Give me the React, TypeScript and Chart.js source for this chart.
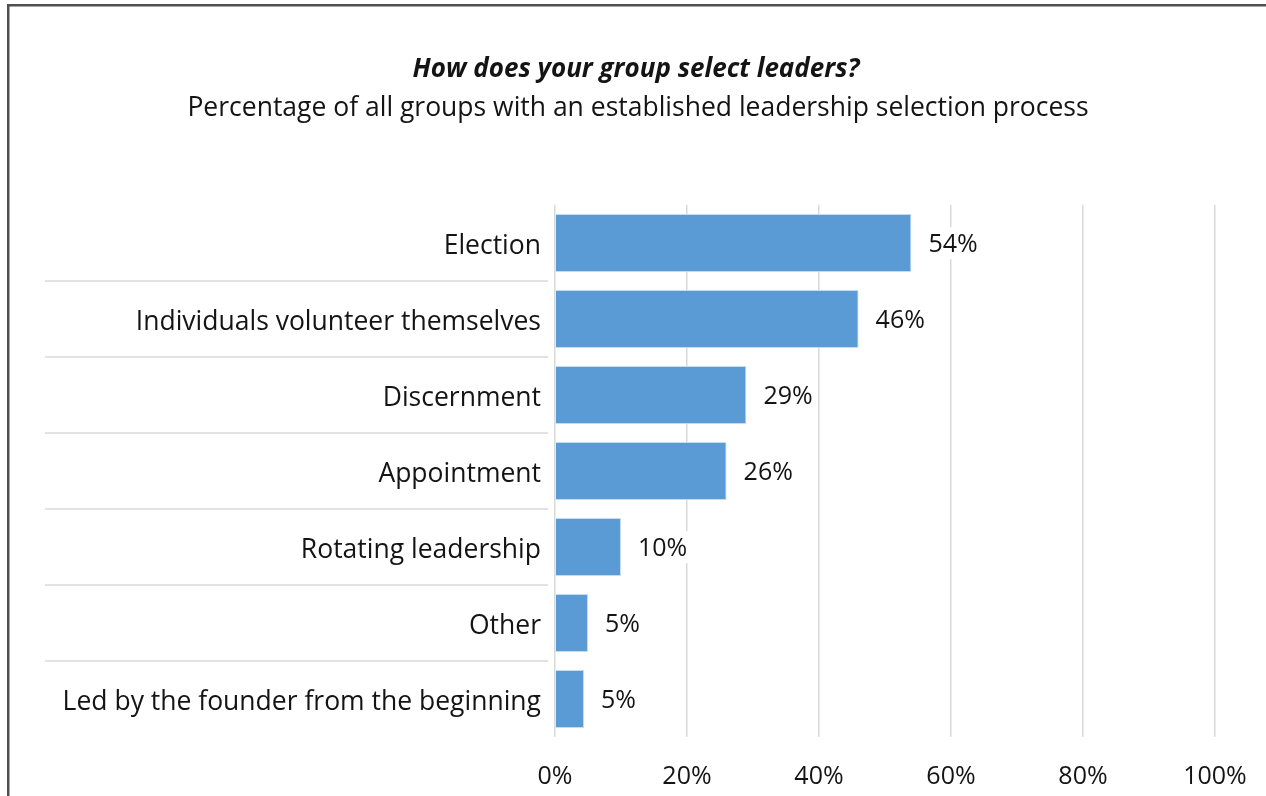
import React, { useEffect, useRef } from "react";
import { Chart, registerables } from "chart.js";

Chart.register(...registerables);

const titleText = "How does your group select leaders?";
const subtitleText = "Percentage of all groups with an established leadership selection process";
const categories = [
  "Election",
  "Individuals volunteer themselves",
  "Discernment",
  "Appointment",
  "Rotating leadership",
  "Other",
  "Led by the founder from the beginning",
];
const values = [54, 46, 29, 26, 10, 5, 4.4];
const valueLabels = ["54%", "46%", "29%", "26%", "10%", "5%", "5%"];
const xTickValues = [0, 20, 40, 60, 80, 100];

const FONT = "'Open Sans', 'Noto Sans', sans-serif";
const TEXT = "#141414";
const GRID = "#d9d9d9";

const framePlugin = {
  id: "frame",
  beforeDraw(chart: any) {
    const ctx = chart.ctx;
    ctx.save();
    ctx.fillStyle = "#ffffff";
    ctx.fillRect(0, 0, chart.width, chart.height);
    ctx.strokeStyle = "#505050";
    ctx.lineWidth = 2.5;
    ctx.strokeRect(8.25, 5.25, 3000, 3000);
    ctx.fillStyle = TEXT;
    ctx.textAlign = "center";
    ctx.textBaseline = "middle";
    ctx.font = `italic bold 26px ${FONT}`;
    ctx.fillText(titleText, 636, 70);
    ctx.font = `26.5px ${FONT}`;
    ctx.fillText(subtitleText, 638, 108);
    ctx.restore();
  },
  afterDraw(chart: any) {
    const ctx = chart.ctx;
    const y = chart.scales.y;
    ctx.save();
    ctx.strokeStyle = GRID;
    ctx.lineWidth = 1.5;
    for (let i = 0; i < categories.length - 1; i++) {
      const yy = (y.getPixelForValue(i) + y.getPixelForValue(i + 1)) / 2;
      ctx.beginPath();
      ctx.moveTo(45, yy);
      ctx.lineTo(548, yy);
      ctx.stroke();
    }
    ctx.fillStyle = TEXT;
    ctx.font = `26.5px ${FONT}`;
    ctx.textAlign = "right";
    ctx.textBaseline = "middle";
    categories.forEach((c, i) => {
      ctx.fillText(c, 541, y.getPixelForValue(i) + 3);
    });
    ctx.restore();
  },
  afterDatasetsDraw(chart: any) {
    const ctx = chart.ctx;
    const meta = chart.getDatasetMeta(0);
    ctx.save();
    ctx.font = `25px ${FONT}`;
    ctx.textBaseline = "middle";
    ctx.textAlign = "left";
    meta.data.forEach((bar: any, i: number) => {
      const txt = valueLabels[i];
      const x = bar.x + 17;
      const w = ctx.measureText(txt).width;
      ctx.fillStyle = "#ffffff";
      ctx.fillRect(x - 3, bar.y - 16, w + 6, 32);
      ctx.fillStyle = TEXT;
      ctx.fillText(txt, x, bar.y + 2);
    });
    ctx.restore();
  },
};

export default function App() {
  const ref = useRef<HTMLCanvasElement | null>(null);
  useEffect(() => {
    if (!ref.current) return;
    const chart = new Chart(ref.current, {
      type: "bar",
      data: {
        labels: categories,
        datasets: [
          {
            data: values,
            backgroundColor: "#5b9bd5",
            borderColor: "#c5dcf0",
            borderWidth: 1,
            barPercentage: 0.76,
            categoryPercentage: 1,
          },
        ],
      },
      options: {
        indexAxis: "y",
        responsive: false,
        animation: false,
        layout: { padding: { top: 205, left: 0, right: 51, bottom: 0 } },
        plugins: {
          legend: { display: false },
          tooltip: { enabled: false },
          title: { display: false },
        },
        scales: {
          x: {
            min: 0,
            max: 100,
            afterBuildTicks(scale: any) {
              scale.ticks = xTickValues.map((v) => ({ value: v }));
            },
            afterFit(scale: any) {
              scale.height = 59;
              scale.paddingLeft = 0;
              scale.paddingRight = 0;
            },
            grid: { color: GRID, lineWidth: 1.5, drawTicks: false },
            border: { display: false },
            ticks: {
              padding: 25,
              color: TEXT,
              font: { family: FONT, size: 25 },
              maxRotation: 0,
              callback: (v: any) => `${v}%`,
            },
          },
          y: {
            afterFit(scale: any) {
              scale.width = 555;
            },
            grid: { display: false, drawTicks: false },
            border: { display: false },
            ticks: { display: false },
          },
        },
      },
      plugins: [framePlugin],
    });
    return () => chart.destroy();
  }, []);
  return (
    <div style={{ position: "fixed", left: 0, top: 0, width: 1266, height: 796 }}>
      <canvas ref={ref} width={1266} height={796} style={{ display: "block" }} />
    </div>
  );
}
